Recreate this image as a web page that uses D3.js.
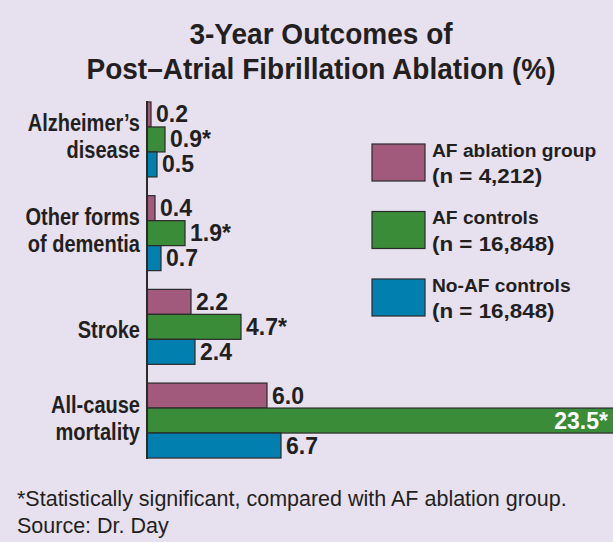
<!DOCTYPE html>
<html>
<head>
<meta charset="utf-8">
<script src="https://cdn.jsdelivr.net/npm/d3@7"></script>
<style>
  html, body { margin: 0; padding: 0; background: #e6e0ef; }
  svg { display: block; }
  text { font-family: "Liberation Sans", Arial, Helvetica, sans-serif; }
</style>
</head>
<body>
<svg id="chart" width="613" height="542"></svg>
<script>
// ---- data ----
const categories = ["Alzheimer’s disease", "Other forms of dementia", "Stroke", "All-cause mortality"];
const categoryLines = [["Alzheimer’s", "disease"], ["Other forms", "of dementia"], ["Stroke"], ["All-cause", "mortality"]];
const seriesNames = ["AF ablation group", "AF controls", "No-AF controls"];
const seriesN = ["(n = 4,212)", "(n = 16,848)", "(n = 16,848)"];
const seriesColors = ["#a15a7c", "#3a8c38", "#0180b0"];
const ablation = [0.2, 0.4, 2.2, 6.0];
const afControls = [0.9, 1.9, 4.7, 23.5];
const noAfControls = [0.5, 0.7, 2.4, 6.7];
const significant = [
  [false, false, false, false],
  [true, true, true, true],
  [false, false, false, false]
];
const titleLines = ["3-Year Outcomes of", "Post–Atrial Fibrillation Ablation (%)"];
const footnotes = ["*Statistically significant, compared with AF ablation group.", "Source: Dr. Day"];

const seriesValues = [ablation, afControls, noAfControls];

const svg = d3.select("#chart");
const W = 613, H = 542;
const ink = "#231f20";
svg.append("rect").attr("width", W).attr("height", H).attr("fill", "#e6e0ef");

// helper: horizontally condensed text placed at (x, y)
function ctext(parent, px, py, sx, anchor, size, weight) {
  return parent.append("g").attr("transform", `translate(${px},${py}) scale(${sx},1)`)
    .append("text").attr("x", 0).attr("y", 0)
    .attr("text-anchor", anchor).attr("font-size", size)
    .attr("font-weight", weight).attr("fill", ink);
}

const x0 = 147;
const x = d3.scaleLinear().domain([0, 25]).range([x0, x0 + 500]);
const y = d3.scaleBand().domain(categories).range([92.6, 467.4]).paddingInner(0.2).paddingOuter(0.1);
const ys = d3.scaleBand().domain(seriesNames).range([0, y.bandwidth()]);

// title
titleLines.forEach((t, i) => {
  ctext(svg, 321, 43.5 + i * 35, 0.95, "middle", 29.5, "bold").text(t);
});

// bars
const rows = [];
categories.forEach((c, ci) => {
  seriesNames.forEach((s, si) => {
    rows.push({ cat: c, ci, ser: s, si, v: seriesValues[si][ci], sig: significant[si][ci] });
  });
});

const g = svg.append("g");
g.selectAll("rect.bar").data(rows).join("rect")
  .attr("class", "bar")
  .attr("x", x(0))
  .attr("y", d => y(d.cat) + ys(d.ser))
  .attr("width", d => x(d.v) - x(0))
  .attr("height", ys.bandwidth())
  .attr("fill", d => seriesColors[d.si])
  .attr("stroke", "#2a2a2a")
  .attr("stroke-width", 1.2);

// value labels
rows.forEach(d => {
  const inside = x(d.v) > W - 60;
  const t = ctext(g, inside ? W - 5 : x(d.v) + 5, y(d.cat) + ys(d.ser) + ys.bandwidth() / 2 + 8,
    1, inside ? "end" : "start", 23, "bold")
    .attr("fill", inside ? "#ffffff" : ink);
  t.append("tspan").text(d.v.toFixed(1));
  if (d.sig) t.append("tspan").text("*");
});

// axis (vertical baseline)
const yAxis = d3.axisLeft(y).tickSize(0).tickFormat("");
svg.append("g").attr("transform", `translate(${x0},0)`).call(yAxis)
  .call(a => a.select(".domain").attr("stroke", "#2a2a2a").attr("stroke-width", 2)
    .attr("d", `M0,${y(categories[0]) - 1}V${y(categories[3]) + y.bandwidth() + 1}`));

// category labels
categories.forEach((c, ci) => {
  const lines = categoryLines[ci];
  const cy = y(c) + y.bandwidth() / 2;
  if (lines.length === 1) {
    ctext(svg, 140, cy + 11, 0.87, "end", 23, "bold").text(lines[0]);
  } else {
    lines.forEach((l, li) => {
      ctext(svg, 140, cy - 8 + li * 27, 0.87, "end", 23, "bold").text(l);
    });
  }
});

// legend
const lg = svg.append("g");
seriesNames.forEach((s, si) => {
  const ty = 144 + si * 67.5;
  lg.append("rect").attr("x", 372).attr("y", ty).attr("width", 53).attr("height", 37)
    .attr("fill", seriesColors[si]).attr("stroke", "#2a2a2a").attr("stroke-width", 1.2);
  ctext(lg, 432, ty + 12.5, 1, "start", 19.2, "bold").text(s);
  ctext(lg, 432, ty + 39, 1.12, "start", 20, "bold").text(seriesN[si]);
});

// footnotes
footnotes.forEach((f, i) => {
  ctext(svg, 17, 506 + i * 27, 1, "start", 21.5, "normal").text(f);
});
</script>
</body>
</html>
